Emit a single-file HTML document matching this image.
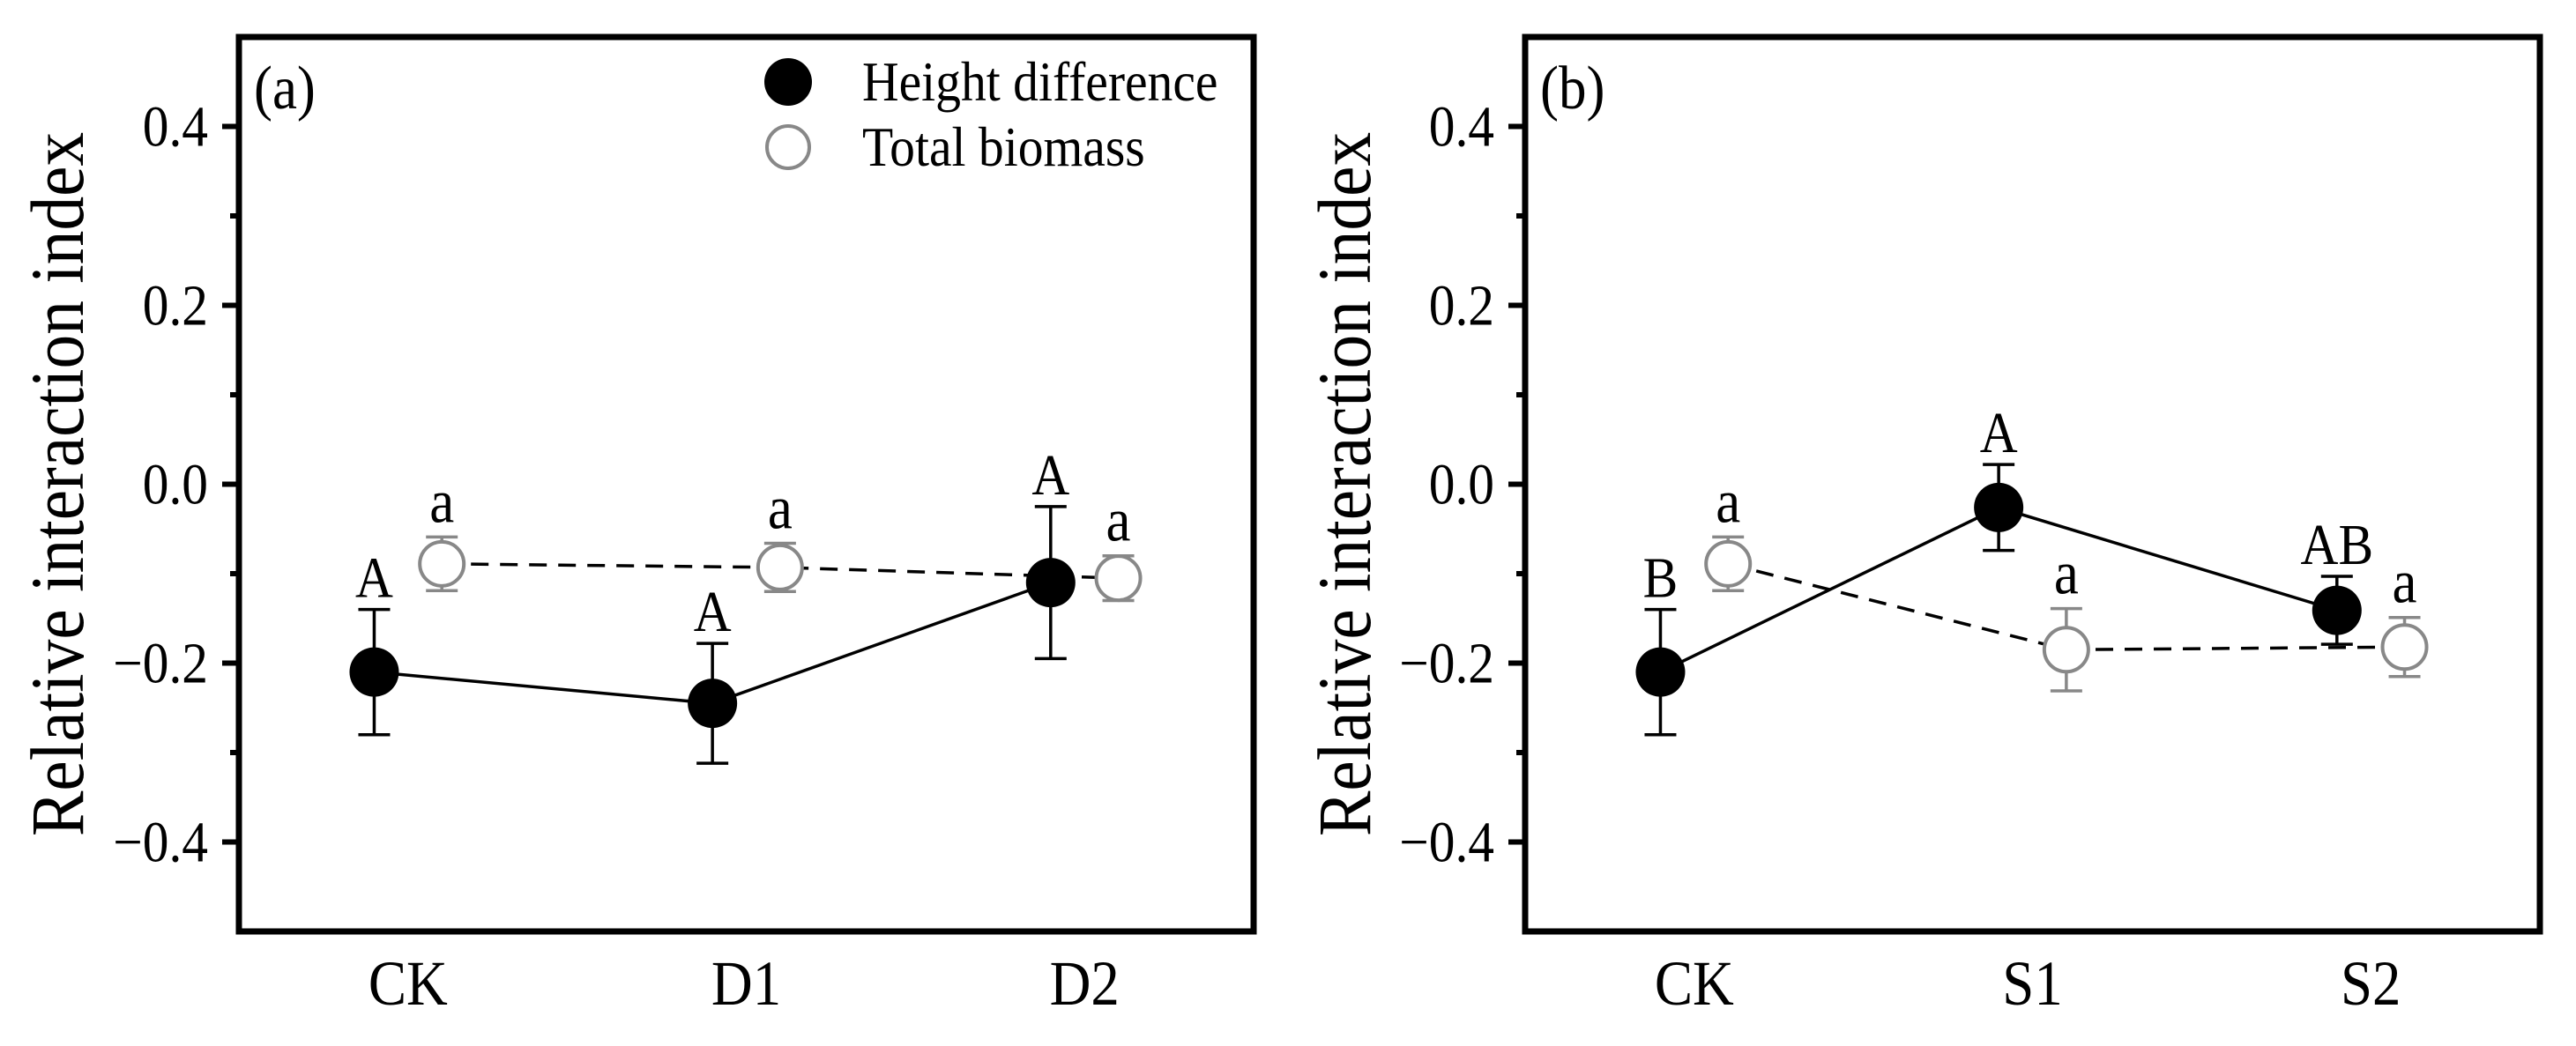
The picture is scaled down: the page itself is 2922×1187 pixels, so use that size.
<!DOCTYPE html>
<html><head><meta charset="utf-8"><style>
html,body{margin:0;padding:0;background:#fff}
svg{display:block;font-family:"Liberation Serif","Times New Roman",serif}
svg text{font-family:"Liberation Serif","Times New Roman",serif;fill:#000}
</style></head><body>
<svg id="chart" width="2922" height="1187" viewBox="0 0 2922 1187" font-family="Liberation Serif, serif" xmlns="http://www.w3.org/2000/svg"></svg>
<script>
const yTicks = [0.4, 0.2, 0.0, -0.2, -0.4];
const yTickLabels = ["0.4", "0.2", "0.0", "\u22120.2", "\u22120.4"];
const yMinor = [0.3, 0.1, -0.1, -0.3];
const catsA = ["CK", "D1", "D2"];
const heightA = [-0.21, -0.245, -0.11];
const heightErrA = [0.07, 0.067, 0.085];
const heightLetA = ["A", "A", "A"];
const bioA = [-0.089, -0.093, -0.105];
const bioErrA = [0.03, 0.027, 0.025];
const bioLetA = ["a", "a", "a"];
const catsB = ["CK", "S1", "S2"];
const heightB = [-0.21, -0.026, -0.141];
const heightErrB = [0.07, 0.048, 0.038];
const heightLetB = ["B", "A", "AB"];
const bioB = [-0.089, -0.185, -0.182];
const bioErrB = [0.03, 0.046, 0.033];
const bioLetB = ["a", "a", "a"];

const svg = document.getElementById('chart');
const NS = 'http://www.w3.org/2000/svg';
const FF = 'Liberation Serif, Times New Roman, serif';
const SX = 0.9;
function mk(tag, attrs, parent) {
  const e = document.createElementNS(NS, tag);
  for (const k in attrs) e.setAttribute(k, attrs[k]);
  (parent || svg).appendChild(e);
  return e;
}
function txt(parent, x, y, size, anchor, str, rot) {
  const tr = rot ? `translate(${x},${y}) rotate(${rot}) scale(${SX},1)` : `translate(${x},${y}) scale(${SX},1)`;
  const e = mk('text', {x: 0, y: 0, 'font-size': size, 'text-anchor': anchor, transform: tr, 'font-family': FF}, parent);
  e.textContent = str;
  return e;
}
const plotTop = 42, plotBot = 1057;
function yS(v) { return plotTop + (0.5 - v) / 1.0 * (plotBot - plotTop); }

function panel(id, left, right, cats, h, he, hl, b, be, bl, tag, titleX, legend) {
  const g = mk('g', {});
  
  
  const xS = v => left + (v - 0.5) / 3 * (right - left);
  const cy = (plotTop + plotBot) / 2;
  const t = txt(g, titleX + 30, cy, 86, 'middle', 'Relative interaction index', -90);
  
  
  yTicks.forEach((v, i) => {
    const y = yS(v);
    const tk = mk('line', {x1: left - 19, x2: left, y1: y, y2: y, stroke: '#000', 'stroke-width': 6}, g);
    
    
    const tl = txt(g, left - 35, y + 22, 66, 'end', yTickLabels[i]);
    
    
  });
  yMinor.forEach(v => {
    const y = yS(v);
    const tk = mk('line', {x1: left - 10, x2: left, y1: y, y2: y, stroke: '#000', 'stroke-width': 6}, g);
    
    
  });
  cats.forEach((c, i) => {
    const xl = txt(g, xS(i + 1), 1140, 72, 'middle', c);
    
    
  });
  const ptsB = b.map((v, i) => `${xS(i + 1.1)},${yS(v)}`).join(' ');
  const lb = mk('polyline', {points: ptsB, fill: 'none', stroke: '#000', 'stroke-width': 3.5, 'stroke-dasharray': '20 13'}, g);
  
  
  const ptsH = h.map((v, i) => `${xS(i + 0.9)},${yS(v)}`).join(' ');
  const lh = mk('polyline', {points: ptsH, fill: 'none', stroke: '#000', 'stroke-width': 3.5}, g);
  
  
  b.forEach((v, i) => {
    const x = xS(i + 1.1), e = be[i], col = '#888';
    const eb = mk('path', {d: `M${x},${yS(v + e)}V${yS(v - e)}M${x - 18},${yS(v + e)}H${x + 18}M${x - 18},${yS(v - e)}H${x + 18}`, stroke: col, 'stroke-width': 3.5, fill: 'none'}, g);
    
    
    const c = mk('circle', {cx: x, cy: yS(v), r: 25, fill: '#fff', stroke: col, 'stroke-width': 4}, g);
    
    
    const lt = txt(g, x, yS(v + e) - 17, 70, 'middle', bl[i]);
    
    
  });
  h.forEach((v, i) => {
    const x = xS(i + 0.9), e = he[i];
    const eb = mk('path', {d: `M${x},${yS(v + e)}V${yS(v - e)}M${x - 18},${yS(v + e)}H${x + 18}M${x - 18},${yS(v - e)}H${x + 18}`, stroke: '#000', 'stroke-width': 3.5, fill: 'none'}, g);
    
    
    const c = mk('circle', {cx: x, cy: yS(v), r: 28, fill: '#000'}, g);
    
    
    const lt = txt(g, x, yS(v + e) - 14, 66, 'middle', hl[i]);
    
    
  });
  const fr = mk('rect', {x: left, y: plotTop, width: right - left, height: plotBot - plotTop, fill: 'none', stroke: '#000', 'stroke-width': 7}, g);
  
  
  const pl = txt(g, left + 17, 123, 70, 'start', tag);
  
  
  if (legend) {
    const lg = mk('g', {}, g);
    
    
    const c1 = mk('circle', {cx: 894, cy: 93, r: 27, fill: '#000'}, lg);
    
    
    const t1 = txt(lg, 978, 114, 64, 'start', 'Height difference');
    
    
    const c2 = mk('circle', {cx: 894, cy: 167, r: 24, fill: '#fff', stroke: '#888', 'stroke-width': 4}, lg);
    
    
    const t2 = txt(lg, 978, 188, 64, 'start', 'Total biomass');
    
    
  }
}
panel('a', 271, 1422, catsA, heightA, heightErrA, heightLetA, bioA, bioErrA, bioLetA, '(a)', 64, true);
panel('b', 1730, 2881, catsB, heightB, heightErrB, heightLetB, bioB, bioErrB, bioLetB, '(b)', 1524, false);
</script>
</body></html>
